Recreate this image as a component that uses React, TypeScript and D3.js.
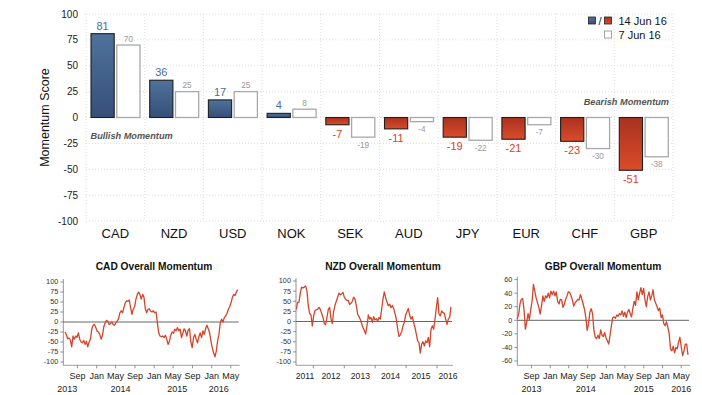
import * as d3 from "d3";

const CURRENCIES = ["CAD", "NZD", "USD", "NOK", "SEK", "AUD", "JPY", "EUR", "CHF", "GBP"];
const SCORE_14JUN = [81, 36, 17, 4, -7, -11, -19, -21, -23, -51];
const SCORE_7JUN = [70, 25, 25, 8, -19, -4, -22, -7, -30, -38];
const SCORE_TICKS = [100, 75, 50, 25, 0, -25, -50, -75, -100];
const LEGEND_LABELS = ["14 Jun 16", "7 Jun 16"];

// overall momentum, sampled at a regular interval from first to last date
const CAD_MOMENTUM = [
  -25, -32, -42, -40, -45, -62, -35, -43, -35, -38,
  -27, -43, -50, -52, -46, -56, -48, -62, -50, -43,
  -18, -8, -6, -14, -23, -25, -31, -43, -33, -12,
  -2, 4, 2, -6, -4, 0, -6, -8, -2, 3,
  8, 23, 28, 23, 36, 48, 53, 52, 55, 36,
  19, 32, 38, 57, 69, 75, 68, 57, 69, 62,
  33, 23, 32, 33, 27, 25, 28, 23, 25, -2,
  -27, -35, -37, -35, -39, -33, -43, -56, -48, -33,
  -25, -28, -18, -22, -14, -22, -18, -39, -28, -17,
  -22, -35, -20, -17, -50, -64, -39, -31, -43, -52,
  -37, -27, -39, -22, -31, -17, -8, -17, -27, -47,
  -64, -77, -87, -73, -47, -31, -2, 7, 0, 11,
  15, 22, 32, 38, 48, 61, 69, 66, 75, 81,
];
const NZD_MOMENTUM = [
  30, 47, 48, 70, 85, 83, 85, 88, 75, 39,
  20, 16, -11, 14, 27, 29, 30, 35, 30, 20,
  10, -5, -8, 10, 30, 35, 7, -5, 25, 40,
  50, 60, 70, 66, 68, 72, 60, 55, 52, 52,
  42, 45, 50, 60, 55, 40, 18, 12, 5, -5,
  -15, -22, -31, -11, 16, 6, 10, -2, 12, 4,
  7, 1, 10, 6, 30, 55, 73, 59, 48, 39,
  43, 34, 40, 32, 20, 6, -19, -37, -33, -25,
  -11, -2, 16, 24, 32, 16, 6, 12, -2, -15,
  -31, -48, -52, -78, -56, -50, -60, -48, -52, -39,
  -62, -19, -11, -19, 6, 34, 59, 18, 14, 26,
  22, 20, 6, -7, 6, 10, 36,
];
const GBP_MOMENTUM = [
  2, 9, 24, 31, 32, 16, -13, -3, 10, 1,
  16, 28, 53, 43, 33, 26, 19, 9, 21, 36,
  28, 36, 33, 40, 33, 43, 38, 43, 36, 42,
  28, 24, 31, 30, 19, 24, 31, 36, 42, 41,
  36, 30, 21, 26, 28, 31, 30, 38, 31, 24,
  16, 4, -15, -5, 12, 17, 10, -15, -25, -27,
  -22, -27, -14, -22, -24, -18, -26, -30, -35, -22,
  -8, 4, 5, 3, 8, 6, 10, 8, 14, 6,
  12, 4, 12, 16, 10, 5, 18, 28, 22, 42,
  30, 40, 48, 38, 47, 30, 20, 35, 42, 30,
  36, 45, 30, 25, 20, 14, 18, 4, 8, -5,
  -8, -2, -10, -20, -42, -45, -38, -48, -40, -42,
  -32, -25, -40, -52, -45, -35, -35, -51,
];

const FONT = "'Liberation Sans', Arial, Helvetica, sans-serif";
const BLUE_LABEL = "#4b6d98";
const RED_LABEL = "#d9432a";
const LINE_RED = "#d2452b";

const parse = d3.timeParse("%Y-%m-%d");

type Panel = {
  title: string;
  values: number[];
  start: string;
  end: string;
  yTicks: number[];
  yMax: number;
  monthTicks: boolean;
  years: [string, string][];
  axisX: number;
  x0: number;
  x1: number;
  yTop: number;
  yBottom: number;
  titleX: number;
};

const PANELS: Panel[] = [
  {
    title: "CAD Overall Momentum",
    values: CAD_MOMENTUM,
    start: "2013-06-14",
    end: "2016-06-14",
    yTicks: [100, 75, 50, 25, 0, -25, -50, -75, -100],
    yMax: 100,
    monthTicks: true,
    years: [["2013", "2013-06-28"], ["2014", "2014-06-01"], ["2015", "2015-05-28"], ["2016", "2016-02-15"]],
    axisX: 63.3,
    x0: 65,
    x1: 237.7,
    yTop: 282,
    yBottom: 362,
    titleX: 154,
  },
  {
    title: "NZD Overall Momentum",
    values: NZD_MOMENTUM,
    start: "2011-06-14",
    end: "2016-06-14",
    yTicks: [100, 75, 50, 25, 0, -25, -50, -75, -100],
    yMax: 100,
    monthTicks: false,
    years: [["2011", "2011-09-25"], ["2012", "2012-07-28"], ["2013", "2013-07-10"], ["2014", "2014-07-01"], ["2015", "2015-06-25"], ["2016", "2016-05-10"]],
    axisX: 296,
    x0: 296.3,
    x1: 451,
    yTop: 281,
    yBottom: 362,
    titleX: 383,
  },
  {
    title: "GBP Overall Momentum",
    values: GBP_MOMENTUM,
    start: "2013-06-01",
    end: "2016-06-14",
    yTicks: [60, 40, 20, 0, -20, -40, -60],
    yMax: 60,
    monthTicks: true,
    years: [["2013", "2013-09-01"], ["2014", "2014-08-20"], ["2015", "2015-09-01"], ["2016", "2016-05-01"]],
    axisX: 517.3,
    x0: 517.3,
    x1: 688,
    yTop: 279.6,
    yBottom: 361,
    titleX: 603,
  },
];

const MomentumPanel = ({ p }: { p: Panel }) => {
  const start = parse(p.start)!;
  const end = parse(p.end)!;
  const x = d3.scaleTime().domain([start, end]).range([p.x0, p.x1]);
  const y = d3.scaleLinear().domain([-p.yMax, p.yMax]).range([p.yBottom, p.yTop]);
  const n = p.values.length;
  const step = (end.getTime() - start.getTime()) / (n - 1);
  const pts = p.values.map((v, i) => ({ date: new Date(start.getTime() + i * step), v }));
  const line = d3.line<{ date: Date; v: number }>().x((d) => x(d.date)).y((d) => y(d.v));
  const axisY = 365.3;
  const ticks = p.monthTicks ? x.ticks(d3.timeMonth.every(4)!) : x.ticks(d3.timeYear.every(1)!);
  const fmt = d3.timeFormat("%b");

  return (
    <g fontFamily={FONT}>
      <text x={p.titleX} y={270} textAnchor="middle" fontSize={10.2} fontWeight="bold" fill="#111">
        {p.title}
      </text>
      {/* y axis */}
      <line x1={p.axisX} x2={p.axisX} y1={y(p.yMax) - 3} y2={axisY} stroke="#777" strokeWidth={0.8} />
      {p.yTicks.map((t) => (
        <g key={t}>
          <line x1={p.axisX - 3} x2={p.axisX} y1={y(t)} y2={y(t)} stroke="#777" strokeWidth={0.8} />
          <text x={p.axisX - 5} y={y(t)} dy="0.33em" textAnchor="end" fontSize={7.3} fill="#333">
            {t}
          </text>
        </g>
      ))}
      {/* x axis */}
      <line x1={p.axisX} x2={p.x1 + 2} y1={axisY} y2={axisY} stroke="#888" strokeWidth={0.8} />
      {ticks.map((t) => (
        <g key={t.getTime()}>
          <line x1={x(t)} x2={x(t)} y1={axisY} y2={axisY + 3} stroke="#777" strokeWidth={0.8} />
          {p.monthTicks && (
            <text x={x(t)} y={378.5} textAnchor="middle" fontSize={9} fill="#222">
              {fmt(t)}
            </text>
          )}
        </g>
      ))}
      {p.years.map(([label, d]) => (
        <text
          key={label}
          x={x(parse(d)!)}
          y={p.monthTicks ? 391.5 : 379}
          textAnchor="middle"
          fontSize={p.monthTicks ? 9 : 8.6}
          fill="#222"
        >
          {label}
        </text>
      ))}
      <line x1={p.axisX} x2={p.x1 + 1} y1={y(0)} y2={y(0)} stroke="#555" strokeWidth={0.9} />
      <path d={line(pts) ?? ""} fill="none" stroke={LINE_RED} strokeWidth={1.3} strokeLinejoin="round" />
    </g>
  );
};

export default function App() {
  const yScale = d3.scaleLinear().domain([-100, 100]).range([221, 14]);
  const xBand = d3.scaleBand().domain(CURRENCIES).range([86, 673]);
  const xPair = d3.scaleBand().domain(["cur", "prev"]).range([5, 54]).paddingInner(0.1);
  const bw = xPair.bandwidth();
  const boundaries = [...CURRENCIES.map((c) => xBand(c)!), 673];

  return (
    <svg
      width={702}
      height={395}
      style={{ position: "absolute", left: 0, top: 0, background: "#fff" }}
      fontFamily={FONT}
    >
      <defs>
        <linearGradient id="blueBar" x1="0" y1="0" x2="0" y2="1">
          <stop offset="0%" stopColor="#4f729b" />
          <stop offset="100%" stopColor="#364f79" />
        </linearGradient>
        <linearGradient id="redBar" x1="0" y1="0" x2="0" y2="1">
          <stop offset="0%" stopColor="#a8321f" />
          <stop offset="100%" stopColor="#dc4b2a" />
        </linearGradient>
      </defs>

      {/* grid */}
      {SCORE_TICKS.map((t) => (
        <line key={"h" + t} x1={86} x2={673} y1={yScale(t)} y2={yScale(t)} stroke="#d6d6d6" strokeWidth={0.8} strokeDasharray="1,2" />
      ))}
      {boundaries.map((bx, i) => (
        <line key={"v" + i} x1={bx} x2={bx} y1={yScale(100)} y2={yScale(-100)} stroke="#d6d6d6" strokeWidth={0.8} strokeDasharray="1,2" />
      ))}

      {/* y axis */}
      {SCORE_TICKS.map((t) => (
        <text key={t} x={78} y={yScale(t)} dy="0.35em" textAnchor="end" fontSize={10} fill="#222">
          {t}
        </text>
      ))}
      <text transform={`translate(45, ${yScale(0)}) rotate(-90)`} textAnchor="middle" dy="0.35em" fontSize={12.5} fill="#111">
        Momentum Score
      </text>

      {/* bars */}
      {CURRENCIES.map((c, i) => {
        const bx = xBand(c)!;
        const cur = SCORE_14JUN[i];
        const prev = SCORE_7JUN[i];
        const cx = bx + xPair("cur")!;
        const px = bx + xPair("prev")!;
        const y0 = yScale(0);
        return (
          <g key={c}>
            <rect
              x={cx}
              y={Math.min(yScale(cur), y0)}
              width={bw}
              height={Math.abs(yScale(cur) - y0)}
              fill={cur >= 0 ? "url(#blueBar)" : "url(#redBar)"}
              stroke="#1e1e1e"
              strokeWidth={1.1}
            />
            <rect
              x={px}
              y={Math.min(yScale(prev), y0)}
              width={bw}
              height={Math.abs(yScale(prev) - y0)}
              fill="#fff"
              stroke="#a8a8a8"
              strokeWidth={1.3}
            />
            <text
              x={cx + bw / 2}
              y={cur >= 0 ? yScale(cur) - 4 : yScale(cur) + 13}
              textAnchor="middle"
              fontSize={11}
              fill={cur >= 0 ? BLUE_LABEL : RED_LABEL}
            >
              {cur}
            </text>
            <text
              x={px + bw / 2}
              y={prev >= 0 ? yScale(prev) - 3.5 : yScale(prev) + 10.5}
              textAnchor="middle"
              fontSize={8.2}
              fill="#999"
            >
              {prev}
            </text>
            <text x={bx + xBand.bandwidth() / 2} y={yScale(-100) + 16.5} textAnchor="middle" fontSize={13} fill="#111">
              {c}
            </text>
          </g>
        );
      })}

      <text x={90.5} y={138.5} fontSize={9.2} fontWeight="bold" fontStyle="italic" fill="#555">
        Bullish Momentum
      </text>
      <text x={669} y={104.5} textAnchor="end" fontSize={9.2} fontWeight="bold" fontStyle="italic" fill="#555">
        Bearish Momentum
      </text>

      {/* legend */}
      <rect x={588.5} y={17} width={7} height={7} fill="url(#blueBar)" stroke="#222" strokeWidth={0.8} />
      <text x={600} y={24.5} textAnchor="middle" fontSize={11} fill="#222">/</text>
      <rect x={604.5} y={17} width={7} height={7} fill="url(#redBar)" stroke="#222" strokeWidth={0.8} />
      <text x={618.5} y={25} fontSize={11} fill="#111">{LEGEND_LABELS[0]}</text>
      <rect x={604.5} y={31} width={7} height={7} fill="#fff" stroke="#999" strokeWidth={0.9} />
      <text x={618.5} y={38.7} fontSize={11} fill="#111">{LEGEND_LABELS[1]}</text>

      {PANELS.map((p) => (
        <MomentumPanel key={p.title} p={p} />
      ))}
    </svg>
  );
}
